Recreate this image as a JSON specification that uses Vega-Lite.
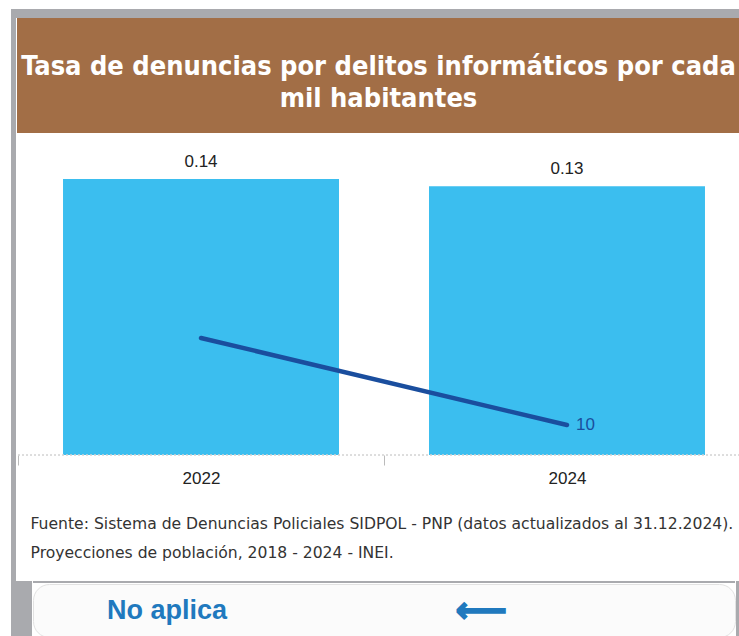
{
  "$schema": "https://vega.github.io/schema/vega-lite/v6.json",
  "background": "#ffffff",
  "padding": {"left": 11, "top": 9, "right": 0, "bottom": 0},
  "spacing": 0,
  "config": {"view": {"stroke": null}, "concat": {"spacing": 0}},
  "vconcat": [
    {
      "width": 728,
      "height": 9,
      "view": {"fill": "#A9AAAE", "stroke": null},
      "data": {"values": [{}]},
      "mark": {"type": "text", "text": "", "fontSize": 0}
    },
    {
      "spacing": 0,
      "hconcat": [
        {
          "width": 5,
          "height": 563,
          "view": {"fill": "#A9AAAE", "stroke": null},
          "data": {"values": [{}]},
          "mark": {"type": "text", "text": "", "fontSize": 0}
        },
        {
          "spacing": 0,
          "vconcat": [
            {
              "width": 723,
              "height": 115,
              "view": {"fill": "#A26E46", "stroke": null},
              "data": {"values": [{}]},
              "mark": {
                "type": "text",
                "text": ["Tasa de denuncias por delitos informáticos por cada", "mil habitantes"],
                "font": "Liberation Sans Narrow, DejaVu Sans Condensed, Liberation Sans",
                "fontWeight": "bold",
                "fontSize": 27,
                "lineHeight": 32,
                "color": "#ffffff",
                "align": "center",
                "baseline": "middle",
                "dy": -9
              }
            },
            {
              "width": 723,
              "height": 322,
              "data": {
                "values": [
                  {"anio": "2022", "tasa": 0.138, "linea": 39},
                  {"anio": "2024", "tasa": 0.1344, "linea": 10}
                ]
              },
              "title": {
                "text": "Fuente: Sistema de Denuncias Policiales SIDPOL - PNP (datos actualizados al 31.12.2024).",
                "subtitle": "Proyecciones de población, 2018 - 2024 - INEI.",
                "orient": "bottom",
                "anchor": "start",
                "dx": 14,
                "offset": 31,
                "font": "DejaVu Sans",
                "fontSize": 15.6,
                "fontWeight": "normal",
                "color": "#333333",
                "subtitleFont": "DejaVu Sans",
                "subtitleFontSize": 15.6,
                "subtitleColor": "#333333",
                "subtitlePadding": 13
              },
              "layer": [
                {
                  "layer": [
                    {
                      "mark": {"type": "bar", "color": "#3BBEEF"},
                      "encoding": {
                        "x": {
                          "field": "anio",
                          "type": "nominal",
                          "scale": {"range": [1, 733], "paddingInner": 0.2459, "paddingOuter": 0.123},
                          "axis": {
                            "title": null,
                            "domain": false,
                            "labelAngle": 0,
                            "labelFont": "Liberation Sans",
                            "labelFontSize": 17,
                            "labelColor": "#222222",
                            "labelPadding": 5,
                            "ticks": true,
                            "tickSize": 10,
                            "tickColor": "#bbbbbb",
                            "tickOffset": -183,
                            "labelOffset": 183
                          }
                        },
                        "y": {"field": "tasa", "type": "quantitative", "scale": {"domain": [0, 0.161], "nice": false}, "axis": null}
                      }
                    },
                    {
                      "mark": {"type": "text", "dy": -17, "fontSize": 17, "font": "Liberation Sans", "color": "#222222"},
                      "encoding": {
                        "x": {"field": "anio", "type": "nominal"},
                        "y": {"field": "tasa", "type": "quantitative"},
                        "text": {"field": "tasa", "type": "quantitative", "format": ".2f"}
                      }
                    },
                    {
                      "mark": {"type": "rule", "color": "#d2d2d2", "strokeDash": [2, 2], "strokeWidth": 1},
                      "encoding": {"y": {"datum": 0}}
                    }
                  ]
                },
                {
                  "layer": [
                    {
                      "mark": {"type": "line", "color": "#1A4E9E", "strokeWidth": 4.5, "strokeCap": "round"},
                      "encoding": {
                        "x": {"field": "anio", "type": "nominal"},
                        "y": {"field": "linea", "type": "quantitative", "scale": {"domain": [0, 107.3], "nice": false}, "axis": null}
                      }
                    },
                    {
                      "transform": [{"filter": "datum.anio == '2024'"}],
                      "mark": {"type": "text", "align": "left", "dx": 9, "fontSize": 17, "font": "Liberation Sans", "color": "#1A4E9E"},
                      "encoding": {
                        "x": {"field": "anio", "type": "nominal"},
                        "y": {"field": "linea", "type": "quantitative"},
                        "text": {"field": "linea", "type": "quantitative"}
                      }
                    }
                  ]
                }
              ],
              "resolve": {"scale": {"y": "independent"}}
            }
          ]
        }
      ]
    },
    {
      "spacing": 0,
      "hconcat": [
        {
          "width": 21,
          "height": 55,
          "view": {"fill": "#A9AAAE", "stroke": null},
          "data": {"values": [{}]},
          "mark": {"type": "text", "text": "", "fontSize": 0}
        },
        {
          "spacing": 0,
          "vconcat": [
            {
              "width": 702,
              "height": 2,
              "view": {"fill": "#A9AAAE", "stroke": null},
              "data": {"values": [{}]},
              "mark": {"type": "text", "text": "", "fontSize": 0}
            },
            {
              "width": 702,
              "height": 53,
              "view": {"fill": "#FBFBFB", "stroke": "#E2E2E2", "cornerRadius": 16},
              "data": {
                "values": [
                  {"tipo": "estado", "texto": "No aplica"},
                  {"tipo": "flecha", "texto": "⟵"}
                ]
              },
              "layer": [
                {
                  "transform": [{"filter": "datum.tipo == 'estado'"}],
                  "mark": {"type": "text", "font": "Liberation Sans", "fontWeight": "bold", "fontSize": 27, "color": "#2079BE", "dx": -217, "align": "center", "baseline": "middle"},
                  "encoding": {"text": {"field": "texto"}}
                },
                {
                  "transform": [{"filter": "datum.tipo == 'flecha'"}],
                  "mark": {"type": "text", "font": "DejaVu Sans", "fontWeight": "bold", "fontSize": 36, "color": "#2079BE", "stroke": "#2079BE", "strokeWidth": 1.5, "dx": 97, "align": "center", "baseline": "middle"},
                  "encoding": {"text": {"field": "texto"}}
                }
              ]
            }
          ]
        },
        {
          "width": 5,
          "height": 55,
          "view": {"fill": "#A9AAAE", "stroke": null},
          "data": {"values": [{}]},
          "mark": {"type": "text", "text": "", "fontSize": 0}
        }
      ]
    }
  ]
}
